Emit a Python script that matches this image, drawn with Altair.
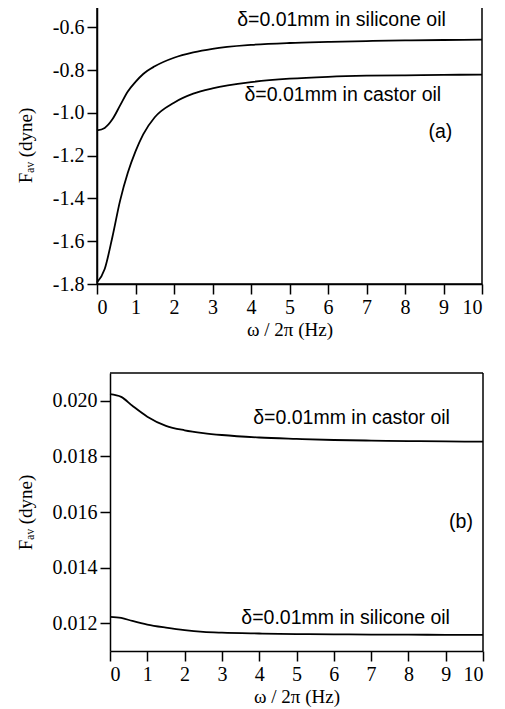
import altair as alt
import pandas as pd

# ---- data ----
freq_a = [0, 0.2, 0.4, 0.6, 0.8, 1.0, 1.2, 1.5, 2.0, 2.5, 3, 4, 5, 6, 7, 8, 9, 10]
silicone_a = [-1.082, -1.07, -1.03, -0.965, -0.90, -0.855, -0.818, -0.782, -0.742, -0.717,
              -0.70, -0.682, -0.673, -0.668, -0.664, -0.661, -0.659, -0.657]
castor_a = [-1.793, -1.73, -1.58, -1.41, -1.28, -1.18, -1.10, -1.02, -0.952, -0.91,
            -0.885, -0.856, -0.840, -0.831, -0.826, -0.824, -0.822, -0.821]

freq_b = [0, 0.3, 0.6, 1.0, 1.5, 2.0, 2.5, 3, 4, 5, 6, 7, 8, 9, 10]
castor_b = [0.02024, 0.02014, 0.01982, 0.01943, 0.01910, 0.01894, 0.01884, 0.01877,
            0.01868, 0.01863, 0.01859, 0.01857, 0.01855, 0.01854, 0.01853]
silicone_b = [0.01223, 0.01219, 0.01208, 0.01195, 0.01184, 0.01175, 0.01169, 0.01166,
              0.01163, 0.01161, 0.0116, 0.01159, 0.01159, 0.01158, 0.01158]

x_ticks = [0, 1, 2, 3, 4, 5, 6, 7, 8, 9, 10]
y_ticks_a = [-1.8, -1.6, -1.4, -1.2, -1.0, -0.8, -0.6]
y_ticks_b = [0.012, 0.014, 0.016, 0.018, 0.020]
x_domain = [0, 10]
y_domain_a = [-1.8, -0.5]
y_domain_b = [0.011, 0.021]

labels_a = ["δ=0.01mm in silicone oil", "δ=0.01mm in castor oil"]
labels_a_x = [3.64, 3.83]
labels_a_y = [-0.567, -0.918]
labels_b = ["δ=0.01mm in castor oil", "δ=0.01mm in silicone oil"]
labels_b_x = [3.84, 3.52]
labels_b_y = [0.01939, 0.01217]
tag_a = ["(a)"]
tag_a_x = [9.23]
tag_a_y = [-1.087]
tag_b = ["(b)"]
tag_b_x = [9.73]
tag_b_y = [0.015655]

# ---- tables ----
df_a = pd.concat([
    pd.DataFrame({"f": freq_a, "F": silicone_a, "s": "silicone"}),
    pd.DataFrame({"f": freq_a, "F": castor_a, "s": "castor"}),
])
df_b = pd.concat([
    pd.DataFrame({"f": freq_b, "F": castor_b, "s": "castor"}),
    pd.DataFrame({"f": freq_b, "F": silicone_b, "s": "silicone"}),
])
lab_a = pd.DataFrame({"t": labels_a, "f": labels_a_x, "F": labels_a_y})
lab_b = pd.DataFrame({"t": labels_b, "f": labels_b_x, "F": labels_b_y})
tg_a = pd.DataFrame({"t": tag_a, "f": tag_a_x, "F": tag_a_y})
tg_b = pd.DataFrame({"t": tag_b, "f": tag_b_x, "F": tag_b_y})
# frame (top and right borders) of panel b, in data units
frame_b = pd.DataFrame({
    "f": [x_domain[0], x_domain[1]], "f2": [x_domain[1], x_domain[1]],
    "F": [y_domain_b[1], y_domain_b[0]], "F2": [y_domain_b[1], y_domain_b[1]],
})

SERIF = "Liberation Serif"
SANS = "Liberation Sans"
H = 278
SHIFT = 13  # panel (b) plot starts further right than panel (a)


def panel(df, lab, tg, domain, ticks, fmt, w, shift=0):
    xscale = alt.Scale(domain=x_domain, nice=False)
    if shift:
        xscale = alt.Scale(domain=x_domain, nice=False, range=[shift, w])
    xs = alt.X("f:Q", scale=xscale,
               axis=alt.Axis(values=x_ticks, title="ω / 2π (Hz)", format="d",
                             labelPadding=3, titlePadding=3))
    yaxis = dict(values=ticks, title="Fₐᵥ (dyne)", labelPadding=3, titlePadding=17,
                 labelExpr="replace(format(datum.value, '" + fmt + "'), '\u2212', '-')")
    if shift:
        yaxis["offset"] = -shift
    ys = alt.Y("F:Q", scale=alt.Scale(domain=domain, nice=False, zero=False),
               axis=alt.Axis(**yaxis))
    lines = alt.Chart(df).mark_line(color="black", strokeWidth=1.8, interpolate="monotone").encode(
        x=xs, y=ys, detail="s:N")
    txt = alt.Chart(lab).mark_text(align="left", baseline="middle", font=SANS, fontSize=19.5,
                                   color="black").encode(
        x=xs, y=ys, text="t:N")
    tag = alt.Chart(tg).mark_text(align="right", baseline="middle", font=SANS, fontSize=19.5,
                                  color="black").encode(
        x=xs, y=ys, text="t:N")
    return lines, txt, tag, xs, ys


la, ta, ga, _, _ = panel(df_a, lab_a, tg_a, y_domain_a, y_ticks_a, ".1f", 385)
pa = alt.layer(la, ta, ga).properties(width=385, height=H)

lb, tb, gb, xsb, ysb = panel(df_b, lab_b, tg_b, y_domain_b, y_ticks_b, ".3f", 386, SHIFT)
fr = alt.Chart(frame_b).mark_rule(color="black", strokeWidth=1.5).encode(
    x=xsb, x2="f2:Q", y=ysb, y2="F2:Q")
pb = alt.layer(lb, tb, gb, fr).properties(
    width=386, height=H, view=alt.ViewBackground(stroke="transparent"))

chart = alt.vconcat(pa, pb, spacing=31).properties(
    padding={"left": 7, "top": -3, "right": 5, "bottom": 5}
).configure_view(
    stroke="black", strokeWidth=1.5
).configure_axis(
    grid=False, tickSize=10, tickWidth=1.5, tickColor="black",
    domainColor="black", domainWidth=1.5,
    labelFont=SERIF, labelFontSize=20, labelColor="black", labelOverlap=False,
    titleFont=SERIF, titleFontSize=19, titleFontWeight="normal", titleColor="black",
)

chart.save("out.html", embed_options={"renderer": "svg", "actions": False})
